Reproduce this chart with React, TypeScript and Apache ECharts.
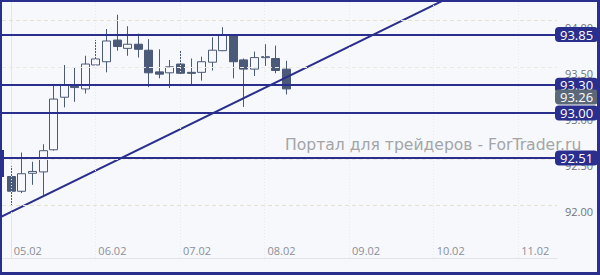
import React, { useEffect, useRef } from "react";
import * as echarts from "echarts";

// candle index (x), open, close, low, high
const opens = [92.31, 92.15, 92.345, 92.36, 92.6, 93.17, 93.295, 93.26, 93.52, 93.555, 93.79, 93.7, 93.745, 93.68, 93.445, 93.435, 93.53, 93.44, 93.44, 93.55, 93.675, 93.845, 93.575, 93.475, 93.605, 93.59, 93.475];
const closes = [92.15, 92.34, 92.365, 92.59, 93.15, 93.3, 93.275, 93.53, 93.585, 93.78, 93.72, 93.745, 93.69, 93.435, 93.42, 93.5, 93.43, 93.43, 93.555, 93.68, 93.845, 93.555, 93.475, 93.6, 93.61, 93.46, 93.26];
const lows = [91.98, 92.13, 92.22, 92.11, 92.59, 93.06, 93.12, 93.21, 93.51, 93.44, 93.675, 93.62, 93.6, 93.28, 93.375, 93.27, 93.42, 93.3, 93.35, 93.46, 93.67, 93.375, 93.065, 93.4, 93.51, 93.43, 93.2];
const highs = [92.42, 92.57, 92.47, 92.66, 93.3, 93.52, 93.49, 93.62, 93.79, 93.91, 94.065, 93.94, 93.86, 93.8, 93.69, 93.575, 93.675, 93.59, 93.61, 93.82, 93.93, 93.85, 93.59, 93.665, 93.745, 93.73, 93.565];

const dayTicks = [0, 8, 16, 24, 32, 40, 48];
const dayLabels = ["05.02", "06.02", "07.02", "08.02", "09.02", "10.02", "11.02"];
const priceTicks = [92, 92.5, 93, 93.5, 94];
const levels = [93.85, 93.3, 93.0, 92.51];
const currentPrice = 93.26;
const trendLine = [[-1.5, 91.84], [42, 94.281]];

const NAVY = "#2a2e8c";
const CANDLE = "#4b5a78";
const BG = "#f7f8fb";

export default function App() {
  const ref = useRef<HTMLDivElement>(null);
  useEffect(() => {
    if (!ref.current) return;
    const chart = echarts.init(ref.current, null, { renderer: "svg" });
    const candleData = opens.map((o, i) => [i, o, closes[i], lows[i], highs[i]]);
    const tagLabel = {
      show: true,
      position: "end",
      distance: -2,
      backgroundColor: NAVY,
      color: "#ffffff",
      fontSize: 13,
      fontFamily: "Open Sans",
      padding: [0, 5, 0, 5],
      lineHeight: 15,
      borderRadius: 4,
      formatter: (p: any) => Number(p.value).toFixed(2),
    };
    const option: any = {
      animation: false,
      backgroundColor: BG,
      grid: { left: 2, right: 43, top: 2, bottom: 17 },
      xAxis: {
        type: "value",
        min: -0.833,
        max: 51.67,
        axisLine: { show: true, lineStyle: { color: "#e2e3e6", width: 1 } },
        axisTick: { show: false },
        splitLine: { show: false },
        axisLabel: {
          customValues: dayTicks,
          inside: true,
          margin: 2,
          align: "left",
          padding: [0, 0, 0, 3],
          color: "#8a8f99",
          fontSize: 11,
          fontFamily: "Open Sans",
          formatter: (v: number) => dayLabels[dayTicks.indexOf(Math.round(v))] ?? "",
        },
      },
      yAxis: {
        type: "value",
        position: "right",
        min: 91.426,
        max: 94.203,
        axisLine: { show: true, lineStyle: { color: "#e2e3e6", width: 1 } },
        axisTick: { show: false },
        splitLine: { show: false },
        axisLabel: {
          customValues: priceTicks,
          margin: 8,
          align: "left",
          verticalAlign: "top",
          padding: [1, 0, 0, 0],
          color: "#6f7378",
          fontSize: 11,
          fontFamily: "Open Sans",
          formatter: (v: number) => v.toFixed(2),
        },
      },
      graphic: [
        {
          type: "text",
          left: 285,
          top: 137,
          z: 0,
          style: {
            text: "Портал для трейдеров - ForTrader.ru",
            fill: "#a3a5a8",
            font: "15.6px 'DejaVu Sans'",
          },
        },
        { type: "rect", z: 100, shape: { x: 0, y: 150, width: 4, height: 27 }, style: { fill: NAVY } },
        { type: "rect", z: 100, shape: { x: 0, y: 0, width: 2, height: 275 }, style: { fill: NAVY } },
        { type: "rect", z: 100, shape: { x: 0, y: 0, width: 600, height: 2 }, style: { fill: NAVY } },
        { type: "rect", z: 100, shape: { x: 597, y: 0, width: 3, height: 275 }, style: { fill: NAVY } },
        { type: "rect", z: 100, shape: { x: 0, y: 272, width: 600, height: 3 }, style: { fill: NAVY } },
      ],
      series: [
        {
          type: "line",
          data: [],
          silent: true,
          z: 1,
          markLine: {
            silent: true,
            symbol: "none",
            label: { show: false },
            data: [
              ...dayTicks.map((d) => ({ xAxis: d, lineStyle: { color: "#e9eaee", type: [1, 2], width: 1 } })),
              ...priceTicks.map((p) => ({
                yAxis: p,
                lineStyle: {
                  color: p === 94 || p === 92 ? "#e6e1cc" : "#eceae0",
                  type: [4, 3],
                  width: 1,
                },
              })),
            ],
          },
        },
        {
          type: "custom",
          z: 3,
          data: candleData,
          encode: { x: 0, y: [1, 2, 3, 4] },
          renderItem: (params: any, api: any) => {
            const x = api.value(0);
            const o = api.value(1);
            const c = api.value(2);
            const l = api.value(3);
            const h = api.value(4);
            const pO = api.coord([x, o]);
            const pC = api.coord([x, c]);
            const pL = api.coord([x, l]);
            const pH = api.coord([x, h]);
            const w = Math.round(api.size([1, 0])[0] * 0.74);
            const cx = Math.round(pO[0]) + 0.5;
            const top = Math.min(pO[1], pC[1]);
            const bot = Math.max(pO[1], pC[1]);
            const bull = c >= o;
            return {
              type: "group",
              children: [
                {
                  type: "line",
                  shape: { x1: cx, y1: pH[1], x2: cx, y2: pL[1] },
                  style: { stroke: CANDLE, lineWidth: 1 },
                },
                {
                  type: "rect",
                  shape: { x: cx - w / 2, y: top, width: w, height: Math.max(bot - top, 1) },
                  style: { fill: bull ? BG : CANDLE, stroke: CANDLE, lineWidth: 1 },
                },
              ],
            };
          },
        },
        {
          type: "line",
          data: trendLine,
          showSymbol: false,
          symbol: "none",
          z: 4,
          lineStyle: { color: NAVY, width: 2 },
          clip: true,
        },
        {
          type: "line",
          data: [],
          z: 5,
          markLine: {
            silent: true,
            symbol: "none",
            lineStyle: { color: NAVY, width: 2, type: "solid" },
            label: tagLabel,
            data: levels.map((v) => ({ yAxis: v })),
          },
        },
        {
          type: "line",
          data: [],
          z: 5,
          markLine: {
            silent: true,
            symbol: "none",
            lineStyle: { color: "rgba(0,0,0,0)", width: 0 },
            label: { ...tagLabel, backgroundColor: "#5b6878", offset: [0, 8] },
            data: [{ yAxis: currentPrice }],
          },
        },
      ],
    };
    chart.setOption(option);
    return () => chart.dispose();
  }, []);
  return <div ref={ref} style={{ position: "absolute", left: 0, top: 0, width: 600, height: 275 }} />;
}
